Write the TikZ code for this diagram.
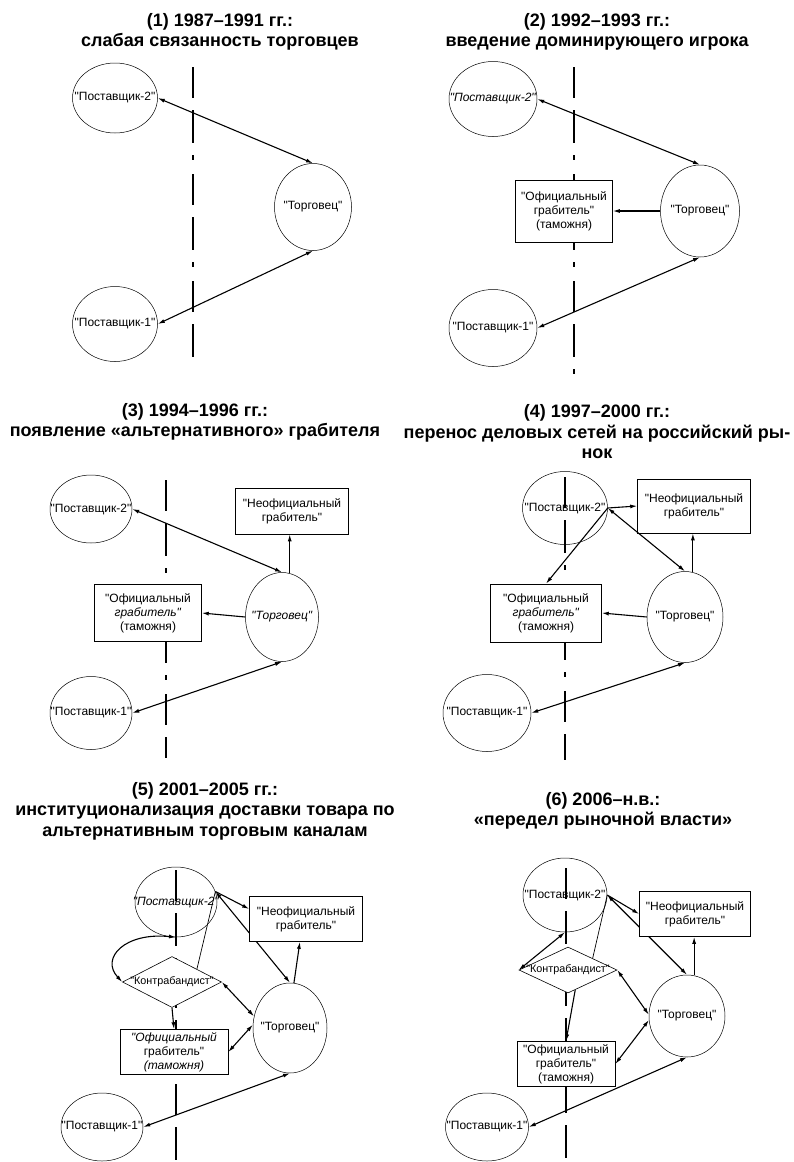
\documentclass[tikz,border=0pt]{standalone}
\usepackage{fontspec}
\setmainfont{Liberation Sans}[Ligatures=TeXOff]
\usetikzlibrary{arrows.meta,backgrounds,shapes.geometric}
\newcommand{\panelhead}{\fontsize{18}{20.5}\selectfont\bfseries}
\newcommand{\partyfont}{\fontsize{12}{14}\selectfont}
\newcommand{\smugfont}{\fontsize{10.8}{13}\selectfont}
\newcommand{\ptext}[1]{\makebox[0pt]{#1}}
\begin{document}
\begin{tikzpicture}
  [x=1pt,y=-1pt,
   >={Latex[length=7pt,width=4pt]},
   party/.style 2 args={ellipse,draw,line width=.5pt,inner sep=0pt,font=\partyfont,
       minimum width=#1,minimum height=#2},
   robber/.style 2 args={rectangle,draw,line width=.6pt,fill=white,inner sep=1pt,
       align=center,font=\partyfont,minimum width=#1,minimum height=#2},
   smuggler/.style 2 args={diamond,draw,line width=.6pt,fill=white,inner sep=0pt,
       font=\smugfont,minimum width=#1,minimum height=#2},
   heading/.style={align=center,font=\panelhead},
   link/.style={line width=1.1pt,<->},
   oneway/.style={line width=1.1pt,->},
   tie/.style={line width=.7pt},
   border/.style={line width=1.9pt,dash pattern=on 31pt off 12pt on 33pt off 12pt on 5pt off 14pt}]
  \useasboundingbox (0,0) rectangle (794,1162);
  \clip (0,0) rectangle (794,1162);

  % (1)
  \node (H1) [heading] at (220,32) {(1) 1987–1991 гг.:\\слабая связанность торговцев};
  \node (S21) [party={85pt}{70pt}] at (115,98) {\ptext{"Поставщик-2"}};
  \node (T1) [party={77pt}{87pt}] at (313,207) {\ptext{"Торговец"}};
  \node (S11) [party={85pt}{75pt}] at (115,324) {\ptext{"Поставщик-1"}};
  \coordinate (top1) at (193,67);
  \coordinate (bot1) at (193,362);

  % (2)
  \node (H2) [heading] at (597,32) {(2) 1992–1993 гг.:\\введение доминирующего игрока};
  \node (S22) [party={88pt}{75pt}] at (493,99) {\ptext{\textit{"Поставщик-2"}}};
  \node (T2) [party={79pt}{92pt}] at (700,211) {\ptext{"Торговец"}};
  \node (R2) [robber={97pt}{62pt}] at (564,211) {"Официальный\\грабитель"\\(таможня)};
  \node (S12) [party={88pt}{77pt}] at (493,328) {\ptext{"Поставщик-1"}};
  \coordinate (top2) at (574,67);
  \coordinate (bot2) at (574,377);

  % (3)
  \node (H3) [heading] at (195,422) {(3) 1994–1996 гг.:\\появление «альтернативного» грабителя};
  \node (S23) [party={82pt}{68pt}] at (91,509) {\ptext{"Поставщик-2"}};
  \node (N3) [robber={113pt}{46pt}] at (292,511) {"Неофициальный\\грабитель"};
  \node (T3) [party={73pt}{89pt}] at (282,617) {\ptext{\textit{"Торговец"}}};
  \node (R3) [robber={107pt}{57pt}] at (148,613) {"Официальный\\\textit{грабитель"}\\(таможня)};
  \node (S13) [party={82pt}{73pt}] at (91,713) {\ptext{"Поставщик-1"}};
  \coordinate (top3) at (166,480);
  \coordinate (bot3) at (166,758);

  % (4)
  \node (H4) [heading] at (597,432) {(4) 1997–2000 гг.:\\перенос деловых сетей на российский ры-\\нок};
  \node (S24) [party={85pt}{73pt}] at (565,508) {\ptext{"Поставщик-2"}};
  \node (N4) [robber={113pt}{54pt}] at (694,506) {"Неофициальный\\грабитель"};
  \node (T4) [party={76pt}{91pt}] at (685,617) {\ptext{"Торговец"}};
  \node (R4) [robber={111pt}{58pt}] at (546,613) {"Официальный\\\textit{грабитель"}\\(таможня)};
  \node (S14) [party={88pt}{77pt}] at (487,713) {\ptext{"Поставщик-1"}};
  \coordinate (top4) at (565,477);
  \coordinate (bot4) at (565,760);

  % (5)
  \node (H5) [heading] at (205,811) {(5) 2001–2005 гг.:\\институционализация доставки товара по\\альтернативным торговым каналам};
  \node (S25) [party={82pt}{70pt}] at (176,902) {\ptext{\textit{"Поставщик-2"}}};
  \node (N5) [robber={113pt}{45pt}] at (306,919) {"Неофициальный\\грабитель"};
  \node (K5) [smuggler={99pt}{51pt}] at (172,982) {\ptext{"Контрабандист"}};
  \node (T5) [party={74pt}{90pt}] at (290,1028) {\ptext{"Торговец"}};
  \node (R5) [robber={108pt}{45pt}] at (174,1052) {\textit{"Официальный}\\грабитель"\\\textit{(таможня)}};
  \node (S15) [party={82pt}{68pt}] at (102,1127) {\ptext{"Поставщик-1"}};
  \coordinate (top5) at (176,870);
  \coordinate (bot5) at (176,1162);

  % (6)
  \node (H6) [heading] at (603,811) {(6) 2006–н.в.:\\«передел рыночной власти»};
  \node (S26) [party={84pt}{74pt}] at (565,895) {\ptext{"Поставщик-2"}};
  \node (N6) [robber={111pt}{45pt}] at (695,914) {"Неофициальный\\грабитель"};
  \node (K6) [smuggler={98pt}{46pt}] at (568,970) {\ptext{"Контрабандист"}};
  \node (T6) [party={76pt}{82pt}] at (687,1016) {\ptext{"Торговец"}};
  \node (R6) [robber={98pt}{45pt}] at (566,1064) {"Официальный\\грабитель"\\(таможня)};
  \node (S16) [party={83pt}{68pt}] at (487,1127) {\ptext{"Поставщик-1"}};
  \coordinate (top6) at (566,868);
  \coordinate (bot6) at (566,1162);

  \begin{scope}[on background layer]
    \draw[border] (top1) -- (bot1);
    \draw[border] (top2) -- (bot2);
    \draw[border] (top3) -- (bot3);
    \draw[border] (top4) -- (bot4);
    \draw[border] (top5) -- (bot5);
    \draw[border] (top6) -- (bot6);
    \draw[link] (S25.15) -- (T5.north);
    \draw[link] (S26.east) -- (T6.north);
  \end{scope}

  \draw[link] (S21.east) -- (T1.north);
  \draw[link] (S11.east) -- (T1.south);

  \draw[link] (S22.east) -- (T2.north);
  \draw[oneway] (T2.west) -- (R2.east);
  \draw[link] (S12.east) -- (T2.south);

  \draw[link] (S23.east) -- (T3.north);
  \draw[oneway] (T3.80) -- (T3.80 |- N3.south);
  \draw[oneway] (T3.west) -- (R3.east);
  \draw[link] (S13.east) -- (T3.south);

  \draw[oneway] (S24.east) -- (N4.west);
  \draw[link] (S24.east) -- (T4.north);
  \draw[oneway] (S24.east) -- (R4.north);
  \draw[oneway] (T4.80) -- (T4.80 |- N4.south);
  \draw[oneway] (T4.west) -- (R4.east);
  \draw[link] (S14.east) -- (T4.south);

  \draw[oneway] (S25.15) -- (N5.170);
  \draw[oneway] (T5.85) -- (N5.255);
  \draw[tie] (S25.15) -- (K5.north east);
  \draw[link] (S25.south) .. controls (125,932) and (100,958) .. (K5.west);
  \draw[link] (K5.east) -- (T5.162);
  \draw[oneway] (K5.south) -- (R5.north);
  \draw[link] (R5.east) -- (T5.175);
  \draw[link] (S15.east) -- (T5.south);

  \draw[oneway] (S26.east) -- (N6.west);
  \draw[oneway] (T6.80) -- (T6.80 |- N6.south);
  \draw[tie] (S26.east) -- (K6.north east);
  \draw[link] (K6.west) -- (S26.south);
  \draw[link] (K6.east) -- (T6.178);
  \draw[oneway] (K6.-70) -- (R6.north);
  \draw[link] (R6.east) -- (T6.186);
  \draw[link] (S16.east) -- (T6.south);
\end{tikzpicture}
\end{document}
